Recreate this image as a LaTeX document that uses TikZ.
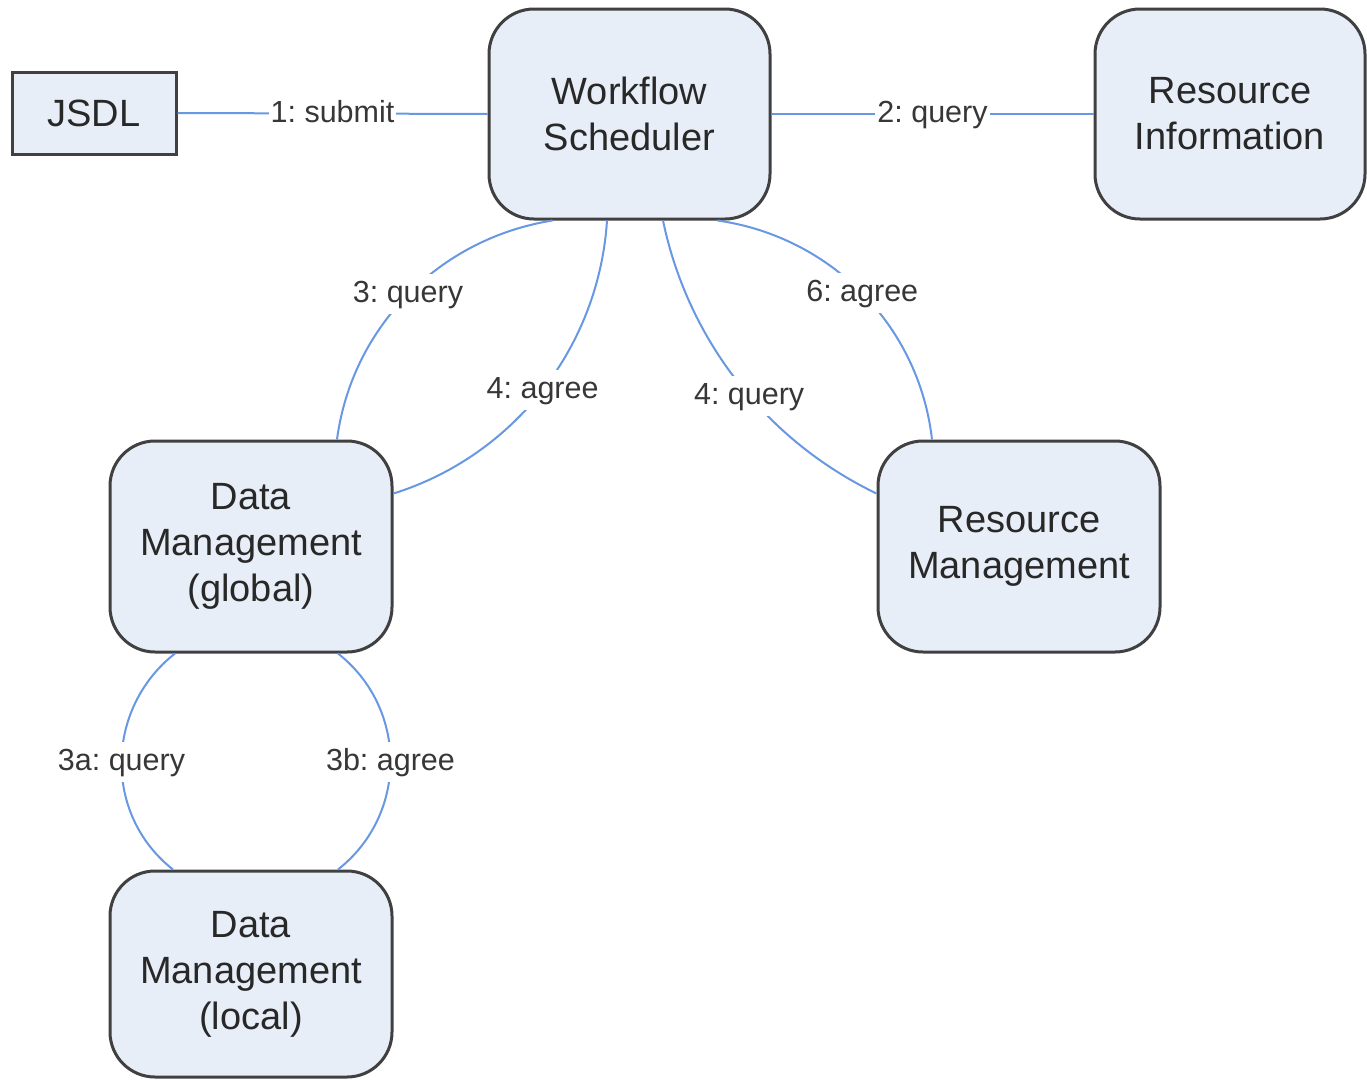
\documentclass[tikz,border=0pt]{standalone}
\usepackage{fontspec}
\setmainfont{Liberation Sans}
\usetikzlibrary{calc}
\definecolor{boxfill}{RGB}{232,238,248}
\definecolor{boxline}{RGB}{64,64,64}
\definecolor{connblue}{RGB}{104,152,226}
\definecolor{txtgray}{RGB}{40,40,40}
\definecolor{lblgray}{RGB}{55,55,55}
\frenchspacing
\begin{document}
\begin{tikzpicture}[x=1pt,y=-1pt,
  box/.style={draw=boxline, line width=3pt, fill=boxfill, rounded corners=45pt,
    minimum width=281pt, minimum height=210pt, align=center, text=txtgray,
    font=\fontsize{38}{46}\selectfont, inner sep=0pt},
  plainbox/.style={draw=boxline, line width=3pt, fill=boxfill,
    minimum width=164pt, minimum height=82pt, text=txtgray,
    font=\fontsize{38}{46}\selectfont, inner sep=0pt},
  conn/.style={draw=connblue, line width=2pt},
  lbl/.style={fill=white, text=lblgray, font=\fontsize{30.5}{36}\selectfont,
    text height=21.5pt, text depth=4.5pt, inner xsep=2pt, inner ysep=7pt}
]
\useasboundingbox (0,0) rectangle (1367,1079);

\node[plainbox] (jsdl) at (94,113) {JSDL};
\node[box] (ws) at (629.5,114) {Workflow\\Scheduler};
\node[box, minimum width=270pt] (ri) at (1230,114) {Resource\\Information};
\node[box, minimum width=282pt, minimum height=211pt] (dmg) at (251,546.5) {Data\\Management\\(global)};
\node[box, minimum width=282pt, minimum height=211pt] (rm) at (1019,546.5) {Resource\\Management};
\node[box, minimum width=282pt, minimum height=206pt] (dml) at (251,974) {Data\\Management\\(local)};

\draw[conn] (jsdl.east) -- (ws.west) node[lbl, midway] (l1) {1: submit};
\draw[conn] (ws.east) -- (ri.west) node[lbl, midway] (l2) {2: query};

\draw[conn] ($(ws.south)+(-77,0)$) .. controls +(-113,18) and +(15,-113) .. ($(dmg.north)+(86,0)$)
  node[lbl, pos=0.5] (l3) {3: query};
\draw[conn] ($(ws.south)+(-22.5,0)$) .. controls +(-8,126) and +(121,-38) .. ($(dmg.east)+(0,-53)$)
  node[lbl, pos=0.5] (l4a) {4: agree};
\draw[conn] ($(ws.south)+(33.5,0)$) .. controls +(25,120) and +(-110,-53) .. ($(rm.west)+(0,-53)$)
  node[lbl, pos=0.55] (l4q) {4: query};
\draw[conn] ($(ws.south)+(88,0)$) .. controls +(113,16) and +(-13,-114) .. ($(rm.north)+(-87,0)$)
  node[lbl, pos=0.5] (l6) {6: agree};

\draw[conn] ($(dmg.south)+(-76,0)$) .. controls +(-70,55) and +(-70,-55) .. ($(dml.north)+(-78,0)$)
  node[lbl, pos=0.5] (l3a) {3a: query};
\draw[conn] ($(dmg.south)+(87,0)$) .. controls +(70,55) and +(70,-55) .. ($(dml.north)+(87,0)$)
  node[lbl, pos=0.5] (l3b) {3b: agree};
\end{tikzpicture}
\end{document}
